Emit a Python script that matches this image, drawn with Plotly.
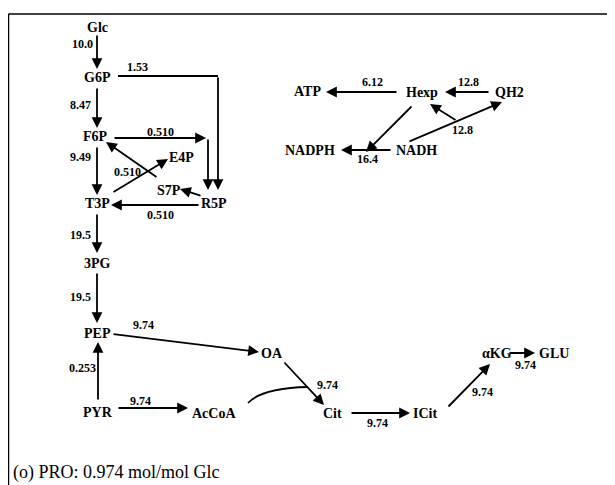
import plotly.graph_objects as go

# ---------------- data ----------------
node_names = ["Glc", "G6P", "F6P", "T3P", "3PG", "PEP", "PYR", "AcCoA", "OA", "Cit",
              "ICit", "αKG", "GLU", "E4P", "S7P", "R5P",
              "ATP", "Hexp", "QH2", "NADPH", "NADH"]
flux_labels = ["10.0", "8.47", "9.49", "19.5", "19.5", "0.253", "9.74", "9.74", "9.74",
               "9.74", "9.74", "9.74", "1.53", "0.510", "0.510", "0.510",
               "6.12", "12.8", "16.4", "12.8"]
caption = "(o) PRO: 0.974 mol/mol Glc"

# ---------------- layout (pixel positions in the window) ----------------
node_pos = {
    "Glc": (97, 27), "G6P": (97, 77), "F6P": (95, 136), "T3P": (97, 203),
    "3PG": (97, 263), "PEP": (97, 333), "PYR": (98, 412), "AcCoA": (214, 413),
    "OA": (272, 353), "Cit": (332, 413), "ICit": (425, 413), "αKG": (497, 353),
    "GLU": (554, 353), "E4P": (181, 157), "S7P": (169, 190), "R5P": (214, 203),
    "ATP": (307, 91), "Hexp": (422, 92), "QH2": (509, 92), "NADPH": (310, 150),
    "NADH": (416, 150),
}
# arrows: (tail, head)
arrows = [
    ((97, 34), (97, 69)), ((97, 87), (97, 128)), ((97, 146), (97, 195)),
    ((97, 213), (97, 253)), ((97, 272), (97, 323)), ((98, 401), (98, 342)),
    ((117, 408), (188, 408)), ((112, 334), (259, 352)), ((283, 361), (324, 405)),
    ((350, 413), (410, 413)), ((447, 408), (490, 364)), ((508, 353), (535, 353)),
    ((218, 76), (218, 190)), ((113, 138), (206, 138)), ((208, 138), (208, 190)),
    ((112, 193), (168, 159)), ((158, 178), (106, 142)), ((202, 196), (180, 189)),
    ((200, 205), (111, 205)),
    ((398, 92), (326, 92)), ((490, 92), (445, 92)), ((413, 105), (366, 152)),
    ((392, 150), (341, 150)), ((408, 142), (502, 102)), ((457, 121), (430, 104)),
]
flux_pos = [(82, 44), (80, 105), (80, 157), (80, 235), (80, 297), (82, 368), (140, 401),
            (143, 325), (327, 385), (377, 423), (482, 392), (525, 365), (137, 67),
            (160, 132), (127, 172), (160, 215), (372, 82), (468, 82), (367, 159), (462, 130)]

FONT = "Liberation Serif"
# the page body has an 8px margin: map the axes so data units equal window pixels
OFF = 8
W, H = 615, 485

fig = go.Figure()
fig.add_trace(go.Scatter(x=[OFF, W], y=[OFF, H], mode="markers",
                         marker=dict(opacity=0), hoverinfo="skip", showlegend=False))

ann = []
for name in node_names:
    x, y = node_pos[name]
    ann.append(dict(x=x, y=y, text="<b>" + name + "</b>", showarrow=False,
                    font=dict(family=FONT, size=14, color="black"),
                    xanchor="center", yanchor="middle"))
for lab, (x, y) in zip(flux_labels, flux_pos):
    ann.append(dict(x=x, y=y, text="<b>" + lab + "</b>", showarrow=False,
                    font=dict(family=FONT, size=12, color="black"),
                    xanchor="center", yanchor="middle"))
for (tx, ty), (hx, hy) in arrows:
    ann.append(dict(x=hx, y=hy, ax=tx, ay=ty, xref="x", yref="y", axref="x", ayref="y",
                    text="", showarrow=True, arrowhead=2, arrowsize=1.2,
                    arrowwidth=1.8, arrowcolor="black", standoff=0, startstandoff=0))
ann.append(dict(x=0, y=472, xref="paper", text=caption, showarrow=False, xanchor="left",
                yanchor="middle", xshift=3, font=dict(family=FONT, size=18, color="black")))

shapes = [
    dict(type="line", x0=OFF + 0.5, y0=14, x1=W, y1=14, line=dict(color="black", width=1.5)),
    dict(type="line", x0=OFF + 0.5, y0=14, x1=OFF + 0.5, y1=H,
         line=dict(color="black", width=1.5)),
    dict(type="path", path="M 118 76 L 218 76", line=dict(color="black", width=1.8)),
    dict(type="path", path="M 248 403 Q 262 388 308 387", line=dict(color="black", width=1.8)),
]

fig.update_layout(
    width=W - OFF, height=H - OFF, margin=dict(l=0, r=0, t=0, b=0),
    paper_bgcolor="white", plot_bgcolor="white",
    xaxis=dict(range=[OFF, W], visible=False, fixedrange=True),
    yaxis=dict(range=[H, OFF], visible=False, fixedrange=True),
    annotations=ann, shapes=shapes, showlegend=False,
)
fig.write_html("out.html")
